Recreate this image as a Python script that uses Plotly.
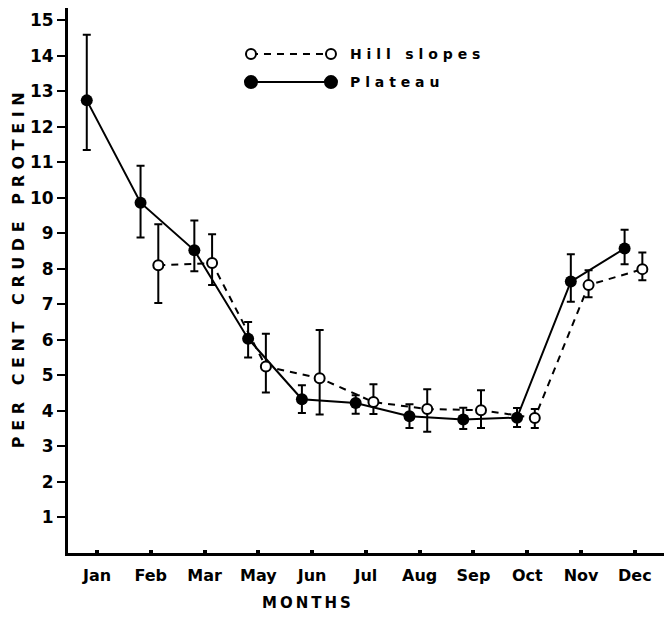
import plotly.graph_objects as go

# ---- data ----
months = ["Jan", "Feb", "Mar", "May", "Jun", "Jul", "Aug", "Sep", "Oct", "Nov", "Dec"]

plateau = [12.74, 9.86, 8.52, 6.03, 4.33, 4.22, 3.85, 3.76, 3.81, 7.64, 8.57]
plateau_err_plus = [1.85, 1.04, 0.84, 0.47, 0.39, 0.22, 0.34, 0.33, 0.27, 0.77, 0.53]
plateau_err_minus = [1.40, 0.98, 0.59, 0.53, 0.39, 0.30, 0.33, 0.27, 0.26, 0.57, 0.44]

hill = [None, 8.10, 8.16, 5.25, 4.92, 4.25, 4.05, 4.02, 3.80, 7.54, 7.99]
hill_err_plus = [None, 1.15, 0.81, 0.92, 1.36, 0.50, 0.56, 0.56, 0.25, 0.42, 0.47]
hill_err_minus = [None, 1.06, 0.62, 0.73, 1.02, 0.34, 0.64, 0.50, 0.28, 0.34, 0.31]

y_ticks = list(range(1, 16))

# ---- style ----
FONT = "DejaVu Sans"
PLATEAU_SHIFT = -0.19
HILL_SHIFT = 0.14


def spaced(text, sep=" "):
    return "\u00a0\u00a0\u00a0".join(sep.join(word) for word in text.split(" "))


idx = list(range(len(months)))

fig = go.Figure()

fig.add_trace(go.Scatter(
    x=[i + PLATEAU_SHIFT for i in idx], y=plateau, mode="lines+markers", name="Plateau",
    line=dict(color="black", width=2),
    marker=dict(symbol="circle", size=12, color="black"),
    error_y=dict(type="data", symmetric=False, array=plateau_err_plus,
                 arrayminus=plateau_err_minus, color="black", thickness=2, width=4),
    showlegend=False,
))
fig.add_trace(go.Scatter(
    x=[i + HILL_SHIFT for i in idx], y=hill, mode="lines+markers", name="Hill slopes",
    line=dict(color="black", width=2, dash="7px,6px"),
    marker=dict(symbol="circle", size=10, color="white", line=dict(color="black", width=2)),
    error_y=dict(type="data", symmetric=False, array=hill_err_plus,
                 arrayminus=hill_err_minus, color="black", thickness=2, width=4),
    showlegend=False,
))

# ---- custom legend (paper coordinates) ----
shapes = []
annotations = []
legend_items = [("Hill slopes", 0.9156, "7px,6px", "white", 5),
                ("Plateau", 0.864, "solid", "black", 6)]
LX0, LX1, LTX = 0.299, 0.4297, 0.458
for label, ly, dash, fill, r in legend_items:
    shapes.append(dict(type="line", xref="paper", yref="paper", x0=LX0, x1=LX1, y0=ly, y1=ly,
                       line=dict(color="black", width=2, dash=dash), layer="above"))
    for lx in (LX0, LX1):
        shapes.append(dict(type="circle", xref="paper", yref="paper", xsizemode="pixel",
                           ysizemode="pixel", xanchor=lx, yanchor=ly, x0=-r, x1=r, y0=-r, y1=r,
                           fillcolor=fill, line=dict(color="black", width=2), layer="above"))
    annotations.append(dict(xref="paper", yref="paper", x=LTX, y=ly, xanchor="left",
                            yanchor="middle", showarrow=False, text=spaced(label),
                            font=dict(family=FONT, size=14, color="black", weight="bold")))

# axis titles
annotations.append(dict(xref="paper", yref="paper", x=-0.0817, y=0.519, textangle=-90,
                        xanchor="center", yanchor="middle", showarrow=False,
                        text=spaced("PER CENT CRUDE PROTEIN"),
                        font=dict(family=FONT, size=16, color="black", weight="bold")))
annotations.append(dict(xref="paper", yref="paper", x=0.3905, y=-0.0917,
                        xanchor="center", yanchor="middle", showarrow=False,
                        text=spaced("MONTHS", "\u2009"),
                        font=dict(family=FONT, size=15, color="black", weight="bold")))

fig.update_layout(
    width=672, height=617,
    margin=dict(l=60, r=0, t=0, b=72, autoexpand=False),
    paper_bgcolor="white", plot_bgcolor="white",
    font=dict(family=FONT, color="black"),
    shapes=shapes, annotations=annotations,
    showlegend=False,
)

fig.update_xaxes(
    range=[-0.539, 10.84], tickmode="array", tickvals=idx, ticktext=months,
    showgrid=False, zeroline=False, showline=True, linecolor="black", linewidth=3,
    ticks="inside", ticklen=3, tickwidth=4, tickcolor="black", ticklabelstandoff=6,
    tickfont=dict(family=FONT, size=16, color="black", weight="bold"),
    automargin=False, ticklabeloverflow="allow",
)
fig.update_yaxes(
    range=[0, 15.34], tickmode="array", tickvals=y_ticks,
    showgrid=False, zeroline=False, showline=True, linecolor="black", linewidth=3,
    ticks="outside", ticklen=8, tickwidth=2, tickcolor="black",
    tickfont=dict(family=FONT, size=17, color="black", weight="bold"),
    automargin=False, ticklabeloverflow="allow",
)

fig.write_html("out.html")
